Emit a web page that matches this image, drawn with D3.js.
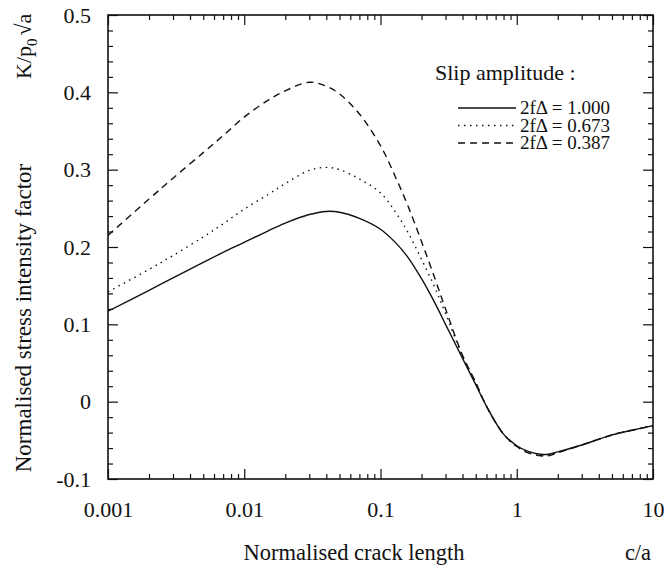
<!DOCTYPE html>
<meta charset="utf-8">
<style>
  body { margin: 0; background: #fff; }
  text { font-family: "Liberation Serif", "DejaVu Serif", serif; fill: #111; }
</style>
<script src="https://d3js.org/d3.v7.min.js"></script>
<svg id="chart" width="667" height="570"></svg>
<script>
  // crack length c/a (log axis)
  var cracks = [0.001, 0.002, 0.003, 0.005, 0.007, 0.01, 0.015, 0.02, 0.03, 0.04, 0.05, 0.07,
    0.1, 0.13, 0.16, 0.2, 0.25, 0.3, 0.4, 0.5, 0.6, 0.8, 1.0, 1.2, 1.5, 1.7, 2, 3, 5, 7, 10];

  // normalised SIF for each slip amplitude
  var slip1000 = [0.117, 0.144, 0.160, 0.180, 0.193, 0.206, 0.221, 0.231, 0.242, 0.246, 0.245, 0.237,
    0.223, 0.205, 0.186, 0.159, 0.128, 0.100, 0.056, 0.022, -0.006, -0.042, -0.057, -0.064, -0.068, -0.068, -0.065, -0.056, -0.043, -0.037, -0.031];
  var slip0673 = [0.142, 0.171, 0.189, 0.213, 0.230, 0.249, 0.268, 0.282, 0.299, 0.303, 0.300, 0.288,
    0.270, 0.244, 0.218, 0.184, 0.148, 0.114, 0.059, 0.024, -0.006, -0.042, -0.058, -0.065, -0.069, -0.069, -0.065, -0.056, -0.043, -0.037, -0.031];
  var slip0387 = [0.215, 0.262, 0.289, 0.322, 0.344, 0.368, 0.390, 0.402, 0.413, 0.408, 0.398, 0.372,
    0.331, 0.289, 0.252, 0.207, 0.160, 0.120, 0.060, 0.025, -0.006, -0.042, -0.058, -0.066, -0.070, -0.070, -0.066, -0.056, -0.043, -0.037, -0.031];

  var seriesNames = ["2f\u0394 = 1.000", "2f\u0394 = 0.673", "2f\u0394 = 0.387"];
  var xTickLabels = ["0.001", "0.01", "0.1", "1", "10"];
  var yTickLabels = ["-0.1", "0", "0.1", "0.2", "0.3", "0.4", "0.5"];

  var svg = d3.select("svg");
  var plotL = 108, plotR = 653, plotT = 15, plotB = 479;

  var x = d3.scaleLog().domain([0.001, 10]).range([plotL, plotR]);
  var y = d3.scaleLinear().domain([-0.1, 0.5]).range([plotB, plotT]);

  // minor ticks
  var xMinor = [];
  [0.001, 0.01, 0.1, 1].forEach(function(d) {
    for (var k = 2; k <= 9; k++) xMinor.push(d * k);
  });
  var yMinor = d3.range(-0.1, 0.5001, 0.02).filter(function(v) {
    return Math.abs(v * 10 - Math.round(v * 10)) > 0.01;
  });

  var g = svg.append("g");

  // bottom axis
  g.append("g").attr("transform", "translate(0," + plotB + ")")
    .call(d3.axisBottom(x).tickValues(xTickLabels.map(Number)).tickFormat(function(d, i) { return xTickLabels[i]; })
      .tickSizeInner(-10).tickSizeOuter(0).tickPadding(22));
  g.append("g").attr("transform", "translate(0," + plotB + ")")
    .call(d3.axisBottom(x).tickValues(xMinor).tickFormat("").tickSizeInner(-5).tickSizeOuter(0));
  // top axis
  g.append("g").attr("transform", "translate(0," + plotT + ")")
    .call(d3.axisTop(x).tickValues(xTickLabels.map(Number)).tickFormat("").tickSizeInner(-10).tickSizeOuter(0));
  g.append("g").attr("transform", "translate(0," + plotT + ")")
    .call(d3.axisTop(x).tickValues(xMinor).tickFormat("").tickSizeInner(-5).tickSizeOuter(0));
  // left axis
  g.append("g").attr("transform", "translate(" + plotL + ",0)")
    .call(d3.axisLeft(y).tickValues(yTickLabels.map(Number)).tickFormat(function(d, i) { return yTickLabels[i]; })
      .tickSizeInner(-10).tickSizeOuter(0).tickPadding(17));
  g.append("g").attr("transform", "translate(" + plotL + ",0)")
    .call(d3.axisLeft(y).tickValues(yMinor).tickFormat("").tickSizeInner(-5).tickSizeOuter(0));
  // right axis
  g.append("g").attr("transform", "translate(" + plotR + ",0)")
    .call(d3.axisRight(y).tickValues(yTickLabels.map(Number)).tickFormat("").tickSizeInner(-10).tickSizeOuter(0));
  g.append("g").attr("transform", "translate(" + plotR + ",0)")
    .call(d3.axisRight(y).tickValues(yMinor).tickFormat("").tickSizeInner(-5).tickSizeOuter(0));

  g.selectAll(".domain").remove();
  g.selectAll(".tick line").attr("stroke", "#111").attr("stroke-width", 1.2);
  g.selectAll(".tick text").attr("font-size", 22).attr("fill", "#111");

  // frame
  svg.append("rect").attr("x", plotL).attr("y", plotT)
    .attr("width", plotR - plotL).attr("height", plotB - plotT)
    .attr("fill", "none").attr("stroke", "#111").attr("stroke-width", 1.6);

  // curves
  svg.append("clipPath").attr("id", "clip").append("rect")
    .attr("x", plotL).attr("y", plotT).attr("width", plotR - plotL).attr("height", plotB - plotT);

  var line = d3.line()
    .x(function(d, i) { return x(cracks[i]); })
    .y(function(d) { return y(d); })
    .curve(d3.curveCatmullRom.alpha(0.5));

  var dashes = [null, "1.5,4.5", "7,5"];
  var allSeries = [slip1000, slip0673, slip0387];

  svg.append("g").attr("clip-path", "url(#clip)")
    .selectAll("path").data(allSeries).enter().append("path")
    .attr("d", line)
    .attr("fill", "none")
    .attr("stroke", "#111")
    .attr("stroke-width", 1.4)
    .attr("stroke-dasharray", function(d, i) { return dashes[i]; });

  // legend
  var legend = svg.append("g");
  legend.append("text").attr("x", 435).attr("y", 80).attr("font-size", 22).text("Slip amplitude :");
  seriesNames.forEach(function(name, i) {
    var ly = 108 + i * 17.5;
    legend.append("line").attr("x1", 458).attr("x2", 516).attr("y1", ly).attr("y2", ly)
      .attr("stroke", "#111").attr("stroke-width", 1.3).attr("stroke-dasharray", dashes[i]);
    legend.append("text").attr("x", 520).attr("y", ly + 6).attr("font-size", 19).text(name);
  });

  // axis titles
  svg.append("text").attr("x", 354).attr("y", 560).attr("text-anchor", "middle")
    .attr("font-size", 22.5).text("Normalised crack length");
  svg.append("text").attr("x", 638).attr("y", 560).attr("text-anchor", "middle")
    .attr("font-size", 22.5).text("c/a");

  svg.append("text").attr("transform", "translate(31,318) rotate(-90)")
    .attr("text-anchor", "middle").attr("font-size", 23).text("Normalised stress intensity factor");

  var kt = svg.append("text").attr("transform", "translate(31,79) rotate(-90)")
    .attr("font-size", 22);
  kt.append("tspan").text("K/p");
  kt.append("tspan").attr("dy", 6).attr("font-size", 15).text("0");
  kt.append("tspan").attr("dy", -6).attr("dx", 3).text("\u221Aa");
</script>
